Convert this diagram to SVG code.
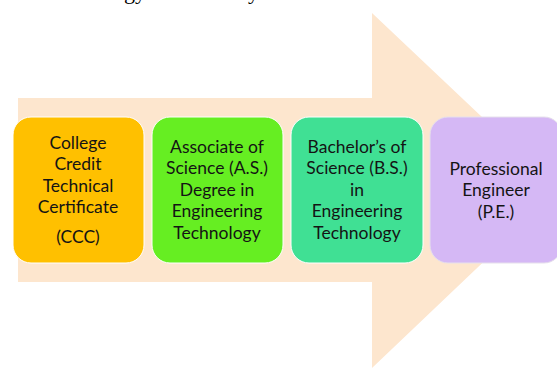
<svg xmlns="http://www.w3.org/2000/svg" width="557" height="368" viewBox="0 0 557 368">
<style>
.t{font-family:"Lato","Liberation Sans",sans-serif;font-size:17.5px;fill:#141414;text-anchor:middle}
.box{stroke:#ffffff;stroke-width:1}
.top{font-family:"Liberation Serif",serif;font-size:22px;fill:#000}
</style>
<rect width="557" height="368" fill="#ffffff"/>
<text class="top" x="124" y="-1">gy</text>
<text class="top" x="248" y="-1">y</text>
<g id="arrow">
<polygon points="18,98 372,98 372,13 559,190 372,368 372,282 18,282" fill="#FDE6CE"/>
</g>
<g id="connectors"></g>
<g id="ccc">
<rect class="box" x="13" y="117" width="131" height="146" rx="18" fill="#FFC000"/>
<text class="t" x="78" y="149">College</text>
<text class="t" x="78" y="170">Credit</text>
<text class="t" x="78" y="192">Technical</text>
<text class="t" x="78" y="213">Certificate</text>
<text class="t" x="78" y="243">(CCC)</text>
</g>
<g id="as">
<rect class="box" x="152" y="117" width="131" height="146" rx="18" fill="#66EE22"/>
<text class="t" x="217" y="153">Associate of</text>
<text class="t" x="217" y="174">Science (A.S.)</text>
<text class="t" x="217" y="196">Degree in</text>
<text class="t" x="217" y="217">Engineering</text>
<text class="t" x="217" y="239">Technology</text>
</g>
<g id="bs">
<rect class="box" x="291" y="117" width="132" height="146" rx="18" fill="#40E094"/>
<text class="t" x="357" y="153">Bachelor’s of</text>
<text class="t" x="357" y="174">Science (B.S.)</text>
<text class="t" x="357" y="196">in</text>
<text class="t" x="357" y="217">Engineering</text>
<text class="t" x="357" y="239">Technology</text>
</g>
<g id="pe">
<rect x="430" y="117" width="132" height="146" rx="18" fill="#D5B8F5" stroke="#e6e0ec" stroke-width="1"/>
<text class="t" x="496" y="175">Professional</text>
<text class="t" x="496" y="196">Engineer</text>
<text class="t" x="496" y="218">(P.E.)</text>
</g>
</svg>
